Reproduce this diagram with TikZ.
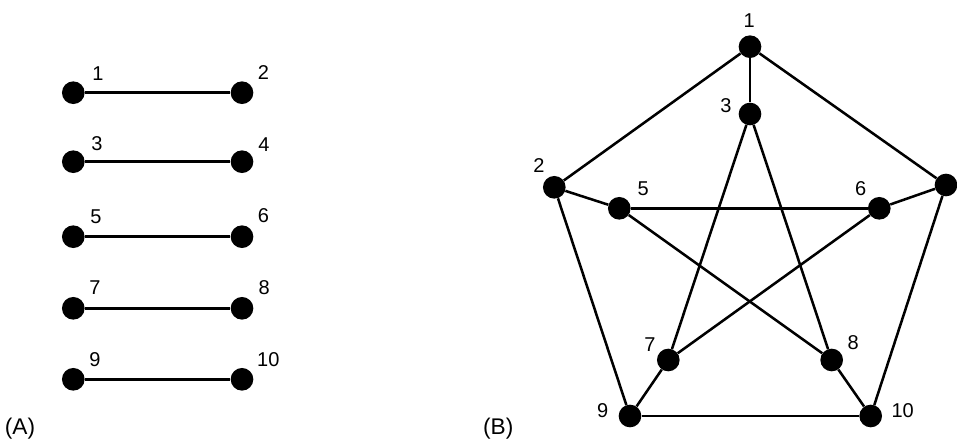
\documentclass[tikz,border=0pt]{standalone}
\usepackage{fontspec}
\setmainfont{Liberation Sans}
\begin{document}
\begin{tikzpicture}[x=0.75pt,y=-0.75pt,
  vtx/.style={circle,fill=black,inner sep=0pt,minimum size=17pt},
  lbl/.style={inner sep=0pt,font=\fontsize{15}{17}\selectfont},
  captionlbl/.style={inner sep=0pt,font=\fontsize{17}{19}\selectfont},
  edge/.style={line width=1.9pt}]
\useasboundingbox (0,0) rectangle (957,441);
% (A)
\foreach \i/\y in {1/92.7,3/161.7,5/236.7,7/308.3,9/379.3}{
  \node[vtx] (a\i) at (73.3,\y) {};
}
\foreach \i/\y in {2/92.7,4/161.7,6/236.7,8/308.3,10/379.3}{
  \node[vtx] (a\i) at (242,\y) {};
}
\draw[edge] (a1) -- (a2);
\draw[edge] (a3) -- (a4);
\draw[edge] (a5) -- (a6);
\draw[edge] (a7) -- (a8);
\draw[edge] (a9) -- (a10);
\node[lbl] (la1) at (98,74) {1};
\node[lbl] (la2) at (263.5,72.5) {2};
\node[lbl] (la3) at (97,143.5) {3};
\node[lbl] (la4) at (264,144.3) {4};
\node[lbl] (la5) at (96,216.5) {5};
\node[lbl] (la6) at (263.5,216) {6};
\node[lbl] (la7) at (95,288) {7};
\node[lbl] (la8) at (264.3,287.7) {8};
\node[lbl] (la9) at (95,360) {9};
\node[lbl] (la10) at (268.3,360) {10};
\node[captionlbl] (capA) at (20,428.3) {(A)};
% (B)
\node[vtx] (b1) at (750,46.7) {};
\node[vtx] (b3) at (750,114) {};
\node[vtx] (b2) at (554.3,187.3) {};
\node[vtx] (b4) at (946,185) {};
\node[vtx] (b5) at (619.3,208.3) {};
\node[vtx] (b6) at (879.3,208.3) {};
\node[vtx] (b7) at (668.3,360) {};
\node[vtx] (b8) at (831.7,360) {};
\node[vtx] (b9) at (630,416) {};
\node[vtx] (b10) at (870.7,416) {};
\draw[edge] (b1) -- (b2);
\draw[edge] (b1) -- (b4);
\draw[edge] (b1) -- (b3);
\draw[edge] (b2) -- (b5);
\draw[edge] (b2) -- (b9);
\draw[edge] (b4) -- (b6);
\draw[edge] (b4) -- (b10);
\draw[edge] (b9) -- (b10);
\draw[edge] (b9) -- (b7);
\draw[edge] (b10) -- (b8);
\draw[edge] (b3) -- (b7);
\draw[edge] (b3) -- (b8);
\draw[edge] (b5) -- (b6);
\draw[edge] (b5) -- (b8);
\draw[edge] (b6) -- (b7);
\node[lbl] (lb1) at (749.3,20.7) {1};
\node[lbl] (lb3) at (726,106) {3};
\node[lbl] (lb2) at (539,165.7) {2};
\node[lbl] (lb4) at (963,165) {4};
\node[lbl] (lb5) at (643.3,189) {5};
\node[lbl] (lb6) at (860.7,189) {6};
\node[lbl] (lb7) at (650,344.3) {7};
\node[lbl] (lb8) at (853.3,342.3) {8};
\node[lbl] (lb9) at (602.7,410.7) {9};
\node[lbl] (lb10) at (902.7,410.7) {10};
\node[captionlbl] (capB) at (498.3,428.3) {(B)};
\end{tikzpicture}
\end{document}
